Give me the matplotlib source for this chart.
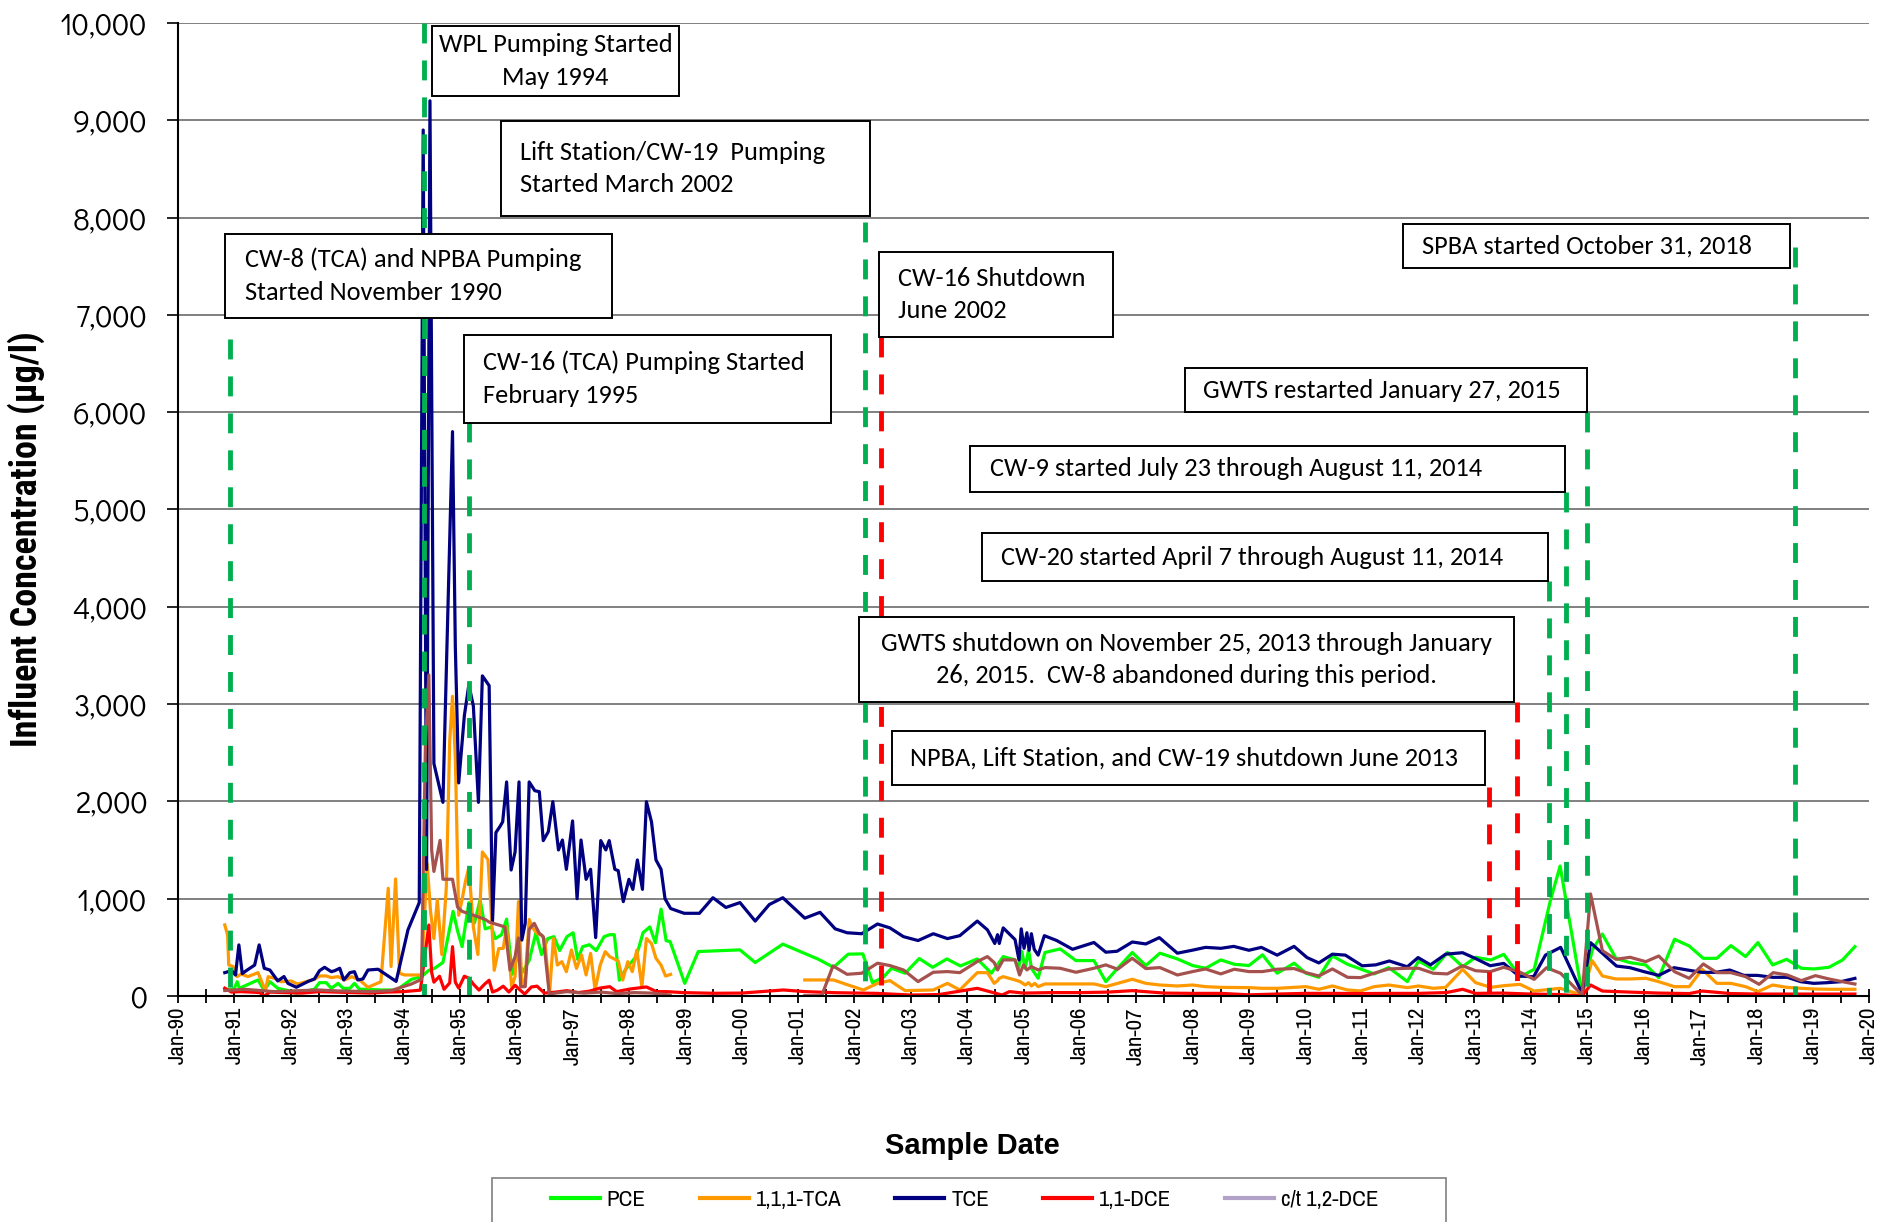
import numpy as np
import matplotlib
matplotlib.use("Agg")
import matplotlib.pyplot as plt
from matplotlib.patches import Rectangle
from matplotlib.lines import Line2D

W, H = 1881, 1222
NARROW = ['Archivo Narrow', 'PT Sans Narrow', 'DejaVu Sans']
NARROW_BOLD = ['Roboto Condensed', 'PT Sans Narrow', 'DejaVu Sans']
BOXFONT = ['Carlito', 'Lato', 'DejaVu Sans']
TICKFONT = ['Didact Gothic', 'Questrial', 'DejaVu Sans']

# 數據 (十進位年份, μg/l) -- 由原圖估讀
tce_year = [1990.83, 1990.95, 1991.02, 1991.08, 1991.14, 1991.21, 1991.36, 1991.44, 1991.53, 1991.63,
            1991.77, 1991.88, 1991.95, 1992.10, 1992.31, 1992.42, 1992.51, 1992.60, 1992.72, 1992.78,
            1992.87, 1992.94, 1993.05, 1993.13, 1993.19, 1993.28, 1993.37, 1993.55, 1993.87, 1994.08,
            1994.28, 1994.35, 1994.41, 1994.47, 1994.54, 1994.70, 1994.87, 1994.92, 1994.98, 1995.08,
            1995.16, 1995.24, 1995.33, 1995.40, 1995.52, 1995.58, 1995.64, 1995.71, 1995.76, 1995.83,
            1995.91, 1995.98, 1996.05, 1996.10, 1996.16, 1996.23, 1996.33, 1996.41, 1996.48, 1996.57,
            1996.65, 1996.75, 1996.82, 1996.89, 1997.00, 1997.08, 1997.15, 1997.24, 1997.32, 1997.41,
            1997.50, 1997.59, 1997.65, 1997.75, 1997.81, 1997.90, 1998.00, 1998.07, 1998.15, 1998.24,
            1998.31, 1998.40, 1998.48, 1998.57, 1998.64, 1998.74, 1998.98, 1999.25, 1999.49, 1999.72,
            1999.97, 2000.24, 2000.49, 2000.73, 2001.12, 2001.39, 2001.66, 2001.87, 2002.13, 2002.41,
            2002.63, 2002.87, 2003.13, 2003.40, 2003.65, 2003.87, 2004.18, 2004.36, 2004.49, 2004.54,
            2004.57, 2004.64, 2004.85, 2004.92, 2004.96, 2005.01, 2005.06, 2005.10, 2005.14, 2005.19,
            2005.26, 2005.37, 2005.59, 2005.87, 2006.25, 2006.46, 2006.66, 2006.93, 2007.17, 2007.41,
            2007.73, 2007.99, 2008.23, 2008.50, 2008.73, 2009.00, 2009.22, 2009.50, 2009.80, 2010.03,
            2010.24, 2010.48, 2010.71, 2011.01, 2011.25, 2011.49, 2011.81, 2012.00, 2012.22, 2012.49,
            2012.79, 2013.02, 2013.28, 2013.52, 2013.79, 2014.05, 2014.26, 2014.53, 2014.91, 2015.06,
            2015.27, 2015.52, 2015.76, 2016.01, 2016.27, 2016.54, 2016.78, 2017.04, 2017.28, 2017.53,
            2017.78, 2018.02, 2018.29, 2018.55, 2018.79, 2019.02, 2019.26, 2019.50, 2019.75]
tce_val = [240, 260, 215, 525, 230, 260, 318, 525, 285, 267,
           155, 200, 130, 90, 150, 175, 260, 295, 250, 260,
           285, 165, 240, 250, 165, 175, 267, 275, 150, 680,
           960, 8900, 1300, 9200, 2390, 1990, 5800, 3590, 2190, 2880,
           3200, 2980, 1990, 3290, 3190, 770, 1680, 1740, 1790, 2200,
           1295, 1480, 2200, 575, 747, 2200, 2110, 2100, 1597, 1689,
           1997, 1501, 1603, 1302, 1799, 1000, 1603, 1199, 1302, 600,
           1597, 1501, 1597, 1302, 1288, 970, 1199, 1096, 1398, 1096,
           1997, 1790, 1398, 1302, 1000, 899, 850, 850, 1010, 910,
           960, 770, 940, 1010, 800, 860, 690, 650, 640, 740,
           700, 610, 570, 640, 590, 620, 770, 680, 540, 630,
           540, 700, 580, 370, 690, 490, 650, 470, 640, 480,
           420, 620, 570, 480, 550, 450, 460, 555, 535, 600,
           440, 470, 500, 490, 510, 470, 500, 420, 510, 395,
           340, 430, 420, 310, 320, 360, 300, 395, 320, 430,
           445, 385, 311, 335, 205, 198, 420, 500, 27, 548,
           438, 308, 291, 250, 212, 291, 267, 243, 243, 267,
           212, 212, 192, 192, 147, 130, 137, 147, 181]

pce_year = [1990.83, 1990.95, 1991.00, 1991.05, 1991.09, 1991.18, 1991.42, 1991.53, 1991.63, 1991.77,
            1991.95, 1992.10, 1992.42, 1992.51, 1992.63, 1992.72, 1992.84, 1992.93, 1993.05, 1993.13,
            1993.22, 1993.37, 1993.60, 1993.78, 1993.87, 1993.96, 1994.14, 1994.32, 1994.45, 1994.55,
            1994.70, 1994.88, 1994.96, 1995.04, 1995.16, 1995.26, 1995.36, 1995.45, 1995.56, 1995.63,
            1995.74, 1995.83, 1995.93, 1996.01, 1996.11, 1996.23, 1996.35, 1996.45, 1996.56, 1996.67,
            1996.77, 1996.90, 1997.01, 1997.09, 1997.18, 1997.30, 1997.42, 1997.56, 1997.66, 1997.74,
            1997.83, 1997.93, 1998.04, 1998.13, 1998.25, 1998.37, 1998.47, 1998.57, 1998.66, 1998.73,
            1998.99, 1999.23, 1999.97, 2000.24, 2000.73, 2001.36, 2001.63, 2001.89, 2002.15, 2002.32,
            2002.51, 2002.66, 2002.90, 2003.15, 2003.39, 2003.64, 2003.88, 2004.18, 2004.43, 2004.64,
            2004.85, 2004.91, 2004.97, 2005.03, 2005.09, 2005.14, 2005.26, 2005.38, 2005.65, 2005.93,
            2006.25, 2006.46, 2006.67, 2006.93, 2007.17, 2007.42, 2007.73, 2008.00, 2008.23, 2008.50,
            2008.74, 2009.00, 2009.24, 2009.50, 2009.80, 2010.01, 2010.24, 2010.48, 2010.75, 2010.98,
            2011.22, 2011.48, 2011.81, 2012.01, 2012.27, 2012.52, 2012.79, 2013.02, 2013.29, 2013.52,
            2013.81, 2014.06, 2014.35, 2014.52, 2014.91, 2015.09, 2015.27, 2015.51, 2015.76, 2016.04,
            2016.27, 2016.55, 2016.81, 2017.06, 2017.30, 2017.55, 2017.81, 2018.03, 2018.29, 2018.54,
            2018.80, 2019.02, 2019.29, 2019.53, 2019.75]
pce_val = [69, 69, 79, 147, 79, 103, 165, 56, 147, 79,
           56, 28, 69, 137, 137, 79, 130, 79, 79, 130,
           69, 69, 62, 62, 45, 96, 171, 199, 264, 284,
           345, 870, 670, 507, 960, 750, 990, 690, 710, 590,
           630, 790, 223, 426, 243, 365, 650, 426, 590, 610,
           467, 610, 650, 377, 507, 527, 467, 610, 630, 630,
           162, 264, 345, 406, 650, 710, 548, 893, 568, 560,
           130, 457, 474, 344, 533, 378, 295, 430, 433, 137,
           192, 285, 234, 385, 295, 381, 309, 381, 234, 405,
           371, 275, 457, 285, 474, 285, 182, 447, 484, 364,
           364, 148, 285, 447, 313, 440, 381, 313, 285, 371,
           326, 313, 423, 234, 337, 234, 192, 412, 326, 278,
           227, 292, 148, 361, 275, 447, 302, 398, 370, 428,
           198, 274, 987, 1336, 20, 473, 637, 387, 343, 319,
           188, 583, 514, 387, 387, 518, 405, 549, 319, 377,
           285, 278, 295, 370, 507]

tca_year = [1990.83, 1990.88, 1990.90, 1990.98, 1991.05, 1991.12, 1991.24, 1991.42, 1991.55, 1991.60,
            1991.71, 1991.83, 1992.01, 1992.12, 1992.42, 1992.51, 1992.63, 1992.72, 1992.84, 1992.96,
            1993.08, 1993.22, 1993.37, 1993.60, 1993.73, 1993.78, 1993.86, 1993.93, 1994.02, 1994.32,
            1994.42, 1994.48, 1994.54, 1994.60, 1994.68, 1994.76, 1994.82, 1994.87, 1994.92, 1994.98,
            1995.04, 1995.10, 1995.16, 1995.24, 1995.32, 1995.40, 1995.50, 1995.56, 1995.61, 1995.69,
            1995.77, 1995.83, 1995.92, 1995.98, 1996.04, 1996.10, 1996.16, 1996.23, 1996.30, 1996.37,
            1996.45, 1996.51, 1996.59, 1996.66, 1996.73, 1996.81, 1996.89, 1996.98, 1997.07, 1997.16,
            1997.24, 1997.32, 1997.40, 1997.49, 1997.58, 1997.66, 1997.81, 1997.89, 1997.98, 1998.06,
            1998.14, 1998.23, 1998.31, 1998.40, 1998.48, 1998.57, 1998.65, 1998.74, 1999.90,
            2001.12, 2001.63, 2001.89, 2002.16, 2002.41, 2002.63, 2002.90, 2003.40, 2003.65, 2003.87,
            2004.18, 2004.36, 2004.48, 2004.54, 2004.57, 2004.64, 2004.85, 2004.94, 2005.03, 2005.09,
            2005.14, 2005.20, 2005.26, 2005.38, 2005.65, 2005.93, 2006.25, 2006.46, 2006.67, 2006.93,
            2007.17, 2007.42, 2007.73, 2008.00, 2008.23, 2008.50, 2009.00, 2009.24, 2009.50, 2009.80,
            2010.01, 2010.24, 2010.48, 2010.75, 2010.98, 2011.22, 2011.48, 2011.81, 2012.01, 2012.27,
            2012.49, 2012.79, 2013.02, 2013.29, 2013.52, 2013.81, 2014.06, 2014.35, 2014.52, 2014.91,
            2015.09, 2015.27, 2015.51, 2015.76, 2016.04, 2016.27, 2016.55, 2016.81, 2017.04, 2017.30,
            2017.55, 2017.81, 2018.03, 2018.29, 2018.54, 2018.80, 2019.02, 2019.29, 2019.53, 2019.75]
tca_val = [730, 627, 319, 302, 199, 226, 199, 240, 56, 199,
           182, 147, 154, 123, 171, 206, 206, 189, 199, 165,
           199, 165, 89, 147, 1107, 302, 1203, 233, 216, 216,
           1360, 870, 590, 990, 426, 1115, 2617, 3080, 2450, 830,
           990, 1180, 1320, 710, 426, 1480, 1400, 830, 264, 487,
           490, 710, 95, 200, 970, 96, 180, 787, 694, 643,
           627, 575, 10, 591, 318, 353, 250, 473, 284, 421,
           216, 438, 62, 318, 456, 404, 360, 164, 353, 250,
           473, 96, 591, 540, 387, 318, 205, 222, np.nan,
           165, 165, 113, 62, 130, 158, 55, 62, 130, 62,
           240, 240, 130, 158, 182, 199, 165, 148, 113, 137,
           103, 130, 96, 124, 124, 124, 124, 96, 130, 172,
           130, 113, 103, 113, 96, 89, 86, 79, 79, 89,
           96, 69, 103, 62, 52, 96, 113, 86, 103, 79,
           89, 274, 137, 89, 106, 120, 51, 69, 79, 10,
           363, 206, 175, 175, 182, 147, 96, 96, 274, 130,
           130, 96, 45, 113, 89, 79, 72, 69, 69, 69]

dce11_year = [1990.83, 1990.95, 1991.10, 1991.30, 1991.45, 1991.53, 1991.63, 1991.90, 1992.20, 1992.50,
              1992.80, 1993.10, 1993.40, 1993.70, 1994.00, 1994.30, 1994.45, 1994.50, 1994.54, 1994.64,
              1994.72, 1994.82, 1994.87, 1994.92, 1994.98, 1995.08, 1995.16, 1995.24, 1995.34, 1995.44,
              1995.52, 1995.58, 1995.67, 1995.77, 1995.87, 1995.98, 1996.07, 1996.15, 1996.27, 1996.37,
              1996.50, 1996.70, 1996.90, 1997.10, 1997.30, 1997.49, 1997.66, 1997.78, 1998.02, 1998.31,
              1998.49, 1998.67, 1998.96, 1999.50, 2000.00, 2000.74, 2001.12, 2001.66, 2002.40, 2003.00,
              2003.50, 2004.18, 2004.40, 2004.62, 2004.75, 2005.00, 2005.50, 2006.00, 2006.50, 2006.93,
              2007.50, 2008.00, 2008.50, 2009.00, 2009.50, 2010.00, 2010.50, 2011.00, 2011.50, 2012.00,
              2012.50, 2012.79, 2013.02, 2013.50, 2014.00, 2014.50, 2014.91, 2015.06, 2015.27, 2015.76,
              2016.27, 2016.81, 2017.04, 2017.55, 2018.03, 2018.80, 2019.29, 2019.75]
dce11_val = [80, 40, 45, 40, 35, 0, 40, 35, 30, 45,
             40, 35, 30, 40, 45, 60, 730, 243, 142, 203,
             69, 134, 507, 142, 81, 203, 183, 122, 61, 122,
             162, 41, 61, 101, 41, 110, 61, 20, 93, 101,
             30, 40, 55, 35, 50, 82, 96, 45, 72, 93,
             45, 45, 35, 28, 30, 62, 45, 34, 27, 10,
             15, 79, 45, 10, 45, 30, 35, 35, 40, 55,
             30, 27, 27, 12, 20, 27, 27, 25, 27, 27,
             35, 69, 27, 30, 20, 15, 0, 113, 51, 40,
             30, 25, 51, 25, 20, 20, 20, 20]

# 圖中褐色線 (圖例未列出)
brown_year = [1990.83, 1991.18, 1991.71, 1992.48, 1992.84, 1993.43, 1993.78, 1994.14, 1994.32, 1994.39,
              1994.45, 1994.50, 1994.54, 1994.65, 1994.70, 1994.87, 1994.96, 1995.04, 1995.24, 1995.44,
              1995.52, 1995.71, 1995.80, 1995.89, 1995.98, 1996.04, 1996.08, 1996.16, 1996.23, 1996.32,
              1996.41, 1996.48, 1996.59, 1996.66, 1996.90, 1997.20, 1997.50, 1997.80, 1998.10, 1998.40,
              1998.73, 1999.90,
              2001.12, 2001.42, 2001.62, 2001.87, 2002.13, 2002.41, 2002.63, 2002.87, 2003.13, 2003.40,
              2003.65, 2003.87, 2004.18, 2004.36, 2004.48, 2004.54, 2004.64, 2004.85, 2004.93, 2005.00,
              2005.06, 2005.14, 2005.26, 2005.38, 2005.65, 2005.93, 2006.25, 2006.46, 2006.67, 2006.93,
              2007.17, 2007.42, 2007.73, 2008.00, 2008.23, 2008.50, 2008.74, 2009.00, 2009.24, 2009.50,
              2009.80, 2010.01, 2010.24, 2010.48, 2010.75, 2010.98, 2011.22, 2011.48, 2011.81, 2012.01,
              2012.27, 2012.52, 2012.79, 2013.02, 2013.28, 2013.52, 2013.79, 2014.06, 2014.28, 2014.53,
              2014.91, 2015.06, 2015.27, 2015.51, 2015.76, 2016.04, 2016.27, 2016.55, 2016.81, 2017.06,
              2017.30, 2017.55, 2017.81, 2018.05, 2018.30, 2018.55, 2018.80, 2019.05, 2019.29, 2019.53,
              2019.75]
brown_val = [56, 69, 45, 62, 52, 45, 56, 123, 171, 2600,
             3300, 1500, 1280, 1600, 1200, 1200, 913, 870, 830, 790,
             760, 726, 709, 267, 404, 596, 96, 96, 685, 747,
             644, 610, 10, 27, 45, 30, 40, 25, 35, 30,
             10, np.nan,
             3, 3, 309, 223, 234, 337, 313, 268, 148, 244,
             251, 240, 354, 405, 344, 268, 371, 371, 216, 320,
             268, 302, 268, 292, 285, 244, 285, 320, 275, 388,
             282, 292, 216, 251, 278, 227, 275, 251, 251, 275,
             282, 240, 206, 278, 192, 189, 234, 278, 285, 285,
             234, 227, 311, 260, 250, 295, 250, 171, 291, 233,
             10, 1049, 466, 377, 398, 353, 411, 250, 182, 329,
             240, 240, 199, 120, 240, 216, 158, 209, 175, 147,
             123]

# 事件垂直線: 年份, 頂端數值, 顏色
event_year = [1990.93, 1994.36, 1995.17, 2002.19, 2002.47, 2013.26, 2013.76,
              2014.32, 2014.62, 2014.99, 2018.68]
event_top = [6750, 10000, 5900, 7950, 6770, 2150, 3020, 4270, 5180, 6000, 7700]
event_color = ['g', 'g', 'g', 'g', 'r', 'r', 'r', 'g', 'g', 'g', 'g']

fig = plt.figure(figsize=(W / 100, H / 100), dpi=100)
ax = fig.add_axes([178 / W, 1 - 996 / H, (1869 - 178) / W, (996 - 23) / H])

ax.plot(pce_year, pce_val, color='#00FF00', lw=2.3, label='PCE', zorder=3)
ax.plot(tca_year, tca_val, color='#FF9900', lw=2.3, label='1,1,1-TCA', zorder=3)
ax.plot(tce_year, tce_val, color='#000080', lw=2.3, label='TCE', zorder=3)
ax.plot(dce11_year, dce11_val, color='#FF0000', lw=2.3, label='1,1-DCE', zorder=3)
ax.plot(brown_year, brown_val, color='#A5524E', lw=2.3, zorder=3)

for yr, top, c in zip(event_year, event_top, event_color):
    col = '#00B050' if c == 'g' else '#FF0000'
    ax.plot([yr, yr], [top, 0], color=col, lw=3.5, ls=(0, (4.1, 3.5)), zorder=4,
            solid_capstyle='butt', dash_capstyle='butt')

ax.set_xlim(1990, 2020)
ax.set_ylim(0, 10000)
ax.set_yticks(np.arange(0, 10001, 1000))
ax.set_yticklabels([f"{v:,}" for v in range(0, 10001, 1000)], fontsize=22, family=TICKFONT)
years = list(range(1990, 2021))
ax.set_xticks(years)
ax.set_xticklabels([f"Jan-{y % 100:02d}" for y in years], rotation=90, fontsize=16.5, family=NARROW)
ax.set_xticks([y + 0.5 for y in years[:-1]], minor=True)
ax.tick_params(axis='x', which='both', direction='inout', length=10, width=1.3, pad=3)
ax.tick_params(axis='y', direction='out', length=8, width=1.2, pad=14)
ax.grid(axis='y', color='#808080', lw=1.4)
ax.set_axisbelow(True)
for s in ['top', 'right']:
    ax.spines[s].set_visible(False)
for s in ['left', 'bottom']:
    ax.spines[s].set_linewidth(1.5)
    ax.spines[s].set_zorder(5)

fig.text(26 / W, 1 - 539 / H, 'Influent Concentration (µg/l)', rotation=90, ha='center', va='center',
         fontsize=26, weight='bold', family=NARROW_BOLD)
fig.text(972 / W, 1 - 1146 / H, 'Sample Date', ha='center', va='center', fontsize=21, weight='bold',
         family=['Liberation Sans', 'DejaVu Sans'])

# 註解方框 (像素座標)
boxes = [
    (432, 26, 679, 96, 'WPL Pumping Started\nMay 1994', 'center', 555.5),
    (501, 121, 870, 216, 'Lift Station/CW-19  Pumping\nStarted March 2002', 'left', 519.5),
    (225, 234, 612, 318, 'CW-8 (TCA) and NPBA Pumping\nStarted November 1990', 'left', 245),
    (464, 335, 831, 423, 'CW-16 (TCA) Pumping Started\nFebruary 1995', 'left', 483.5),
    (879, 252, 1113, 337, 'CW-16 Shutdown\nJune 2002', 'left', 898.5),
    (1403, 224, 1790, 268, 'SPBA started October 31, 2018', 'left', 1421.5),
    (1185, 368, 1587, 412, 'GWTS restarted January 27, 2015', 'left', 1203),
    (970, 446, 1565, 492, 'CW-9 started July 23 through August 11, 2014', 'left', 990),
    (982, 533, 1548, 581, 'CW-20 started April 7 through August 11, 2014', 'left', 1001.5),
    (859, 617, 1514, 702, 'GWTS shutdown on November 25, 2013 through January\n26, 2015.  CW-8 abandoned during this period.',
     'center', 1186.5),
    (892, 731, 1485, 785, 'NPBA, Lift Station, and CW-19 shutdown June 2013', 'left', 910.5),
]
for x0, y0, x1, y1, txt, ha, tx in boxes:
    fig.add_artist(Rectangle((x0 / W, 1 - y1 / H), (x1 - x0) / W, (y1 - y0) / H,
                             transform=fig.transFigure, fc='white', ec='black', lw=1.4, zorder=6))
    fig.text(tx / W, 1 - (y0 + y1) / 2 / H, txt, ha=ha, va='center', multialignment=ha,
             fontsize=19, family=BOXFONT, linespacing=1.52, zorder=7)

# 圖例
fig.add_artist(Rectangle((492 / W, -0.05), (1446 - 492) / W, 0.05 + 1 - 1178 / H,
                         transform=fig.transFigure, fc='white', ec='#808080', lw=1.2, zorder=6))
handles = [Line2D([], [], color='#00FF00', lw=3),
           Line2D([], [], color='#FF9900', lw=3),
           Line2D([], [], color='#000080', lw=3),
           Line2D([], [], color='#FF0000', lw=3),
           Line2D([], [], color='#B3A2C7', lw=3)]
labels = ['PCE', '1,1,1-TCA', 'TCE', '1,1-DCE', 'c/t 1,2-DCE']
leg = fig.legend(handles, labels, loc='center left', bbox_to_anchor=(530 / W, 1 - 1200 / H), ncol=5,
                 frameon=False, handlelength=2.15, handletextpad=0.3, columnspacing=2.35,
                 prop={'family': NARROW, 'size': 16.5})
leg.set_zorder(7)

fig.savefig('out.png', dpi=100)
